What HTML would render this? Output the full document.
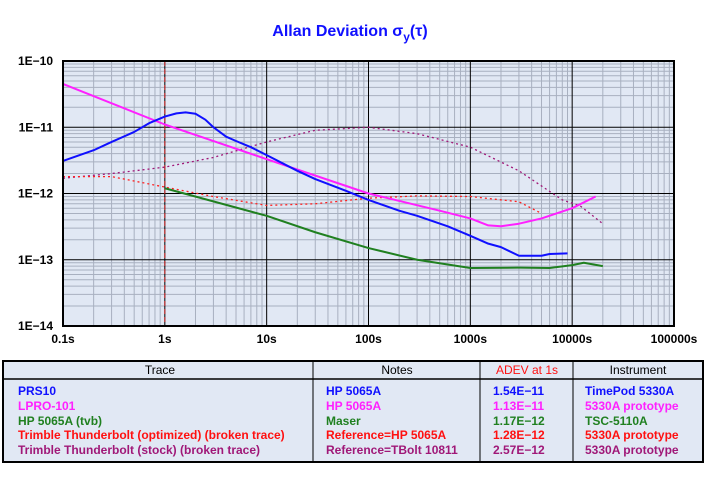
<!DOCTYPE html>
<html><head><meta charset="utf-8"><style>
body{margin:0;background:#fff;width:705px;height:492px;overflow:hidden;font-family:"Liberation Sans",sans-serif}
svg text{font-family:"Liberation Sans",sans-serif;font-weight:bold}
</style></head><body>
<svg width="705" height="492">
<text x="350" y="36" text-anchor="middle" font-size="16" fill="#1010ff">Allan Deviation σ<tspan font-size="12" dy="5">y</tspan><tspan dy="-5">(τ)</tspan></text>
<rect x="63" y="61" width="611" height="265" fill="#e1e8f4"/>
<g id="grid"></g><g id="series"></g>
<rect x="63" y="61" width="611" height="265" fill="none" stroke="#000" stroke-width="2"/>
<g id="labels"></g>
<g>
<rect x="3" y="361" width="700" height="101" fill="#e1e8f4" stroke="#000" stroke-width="2"/>
<line x1="3" y1="379" x2="703" y2="379" stroke="#000" stroke-width="1.5"/>
<line x1="313" y1="361" x2="313" y2="462" stroke="#000"/>
<line x1="480" y1="361" x2="480" y2="462" stroke="#000"/>
<line x1="573" y1="361" x2="573" y2="462" stroke="#000"/>
<g font-size="12">
<text x="160" y="374" text-anchor="middle" style="font-weight:normal">Trace</text>
<text x="397" y="374" text-anchor="middle" style="font-weight:normal">Notes</text>
<text x="527" y="374" text-anchor="middle" fill="#ff1010" style="font-weight:normal">ADEV at 1s</text>
<text x="638" y="374" text-anchor="middle" style="font-weight:normal">Instrument</text>
</g>
<g font-size="12">
<text x="18" y="395" fill="#1010ff">PRS10</text><text x="326" y="395" fill="#1010ff">HP 5065A</text><text x="493" y="395" fill="#1010ff">1.54E−11</text><text x="585" y="395" fill="#1010ff">TimePod 5330A</text>
<text x="18" y="410" fill="#ff20ff">LPRO-101</text><text x="326" y="410" fill="#ff20ff">HP 5065A</text><text x="493" y="410" fill="#ff20ff">1.13E−11</text><text x="585" y="410" fill="#ff20ff">5330A prototype</text>
<text x="18" y="425" fill="#208020">HP 5065A (tvb)</text><text x="326" y="425" fill="#208020">Maser</text><text x="493" y="425" fill="#208020">1.17E−12</text><text x="585" y="425" fill="#208020">TSC-5110A</text>
<text x="18" y="439" fill="#ff1010">Trimble Thunderbolt (optimized) (broken trace)</text><text x="326" y="439" fill="#ff1010">Reference=HP 5065A</text><text x="493" y="439" fill="#ff1010">1.28E−12</text><text x="585" y="439" fill="#ff1010">5330A prototype</text>
<text x="18" y="454" fill="#a01878">Trimble Thunderbolt (stock) (broken trace)</text><text x="326" y="454" fill="#a01878">Reference=TBolt 10811</text><text x="493" y="454" fill="#a01878">2.57E−12</text><text x="585" y="454" fill="#a01878">5330A prototype</text>
</g></g>
</svg>
<script>
const xTicks=["0.1s","1s","10s","100s","1000s","10000s","100000s"];
const yTicks=["1E−10","1E−11","1E−12","1E−13","1E−14"];
const prsTau=[0.1,0.2,0.3,0.5,0.7,1,1.3,1.6,2,2.5,3,4,5,7,10,20,30,60,100,200,300,600,1000,1500,2000,3000,5000,6000,9000];
const prsVal=[3.1e-12,4.5e-12,6e-12,8.5e-12,1.15e-11,1.45e-11,1.62e-11,1.68e-11,1.6e-11,1.3e-11,1.0e-11,7.2e-12,6.2e-12,5.0e-12,3.8e-12,2.2e-12,1.65e-12,1.1e-12,8e-13,5.5e-13,4.6e-13,3.2e-13,2.3e-13,1.75e-13,1.55e-13,1.15e-13,1.15e-13,1.22e-13,1.25e-13];
const lproTau=[0.1,1,10,100,500,1000,1500,2000,3000,5000,10000,17000];
const lproVal=[4.5e-11,1.1e-11,3.3e-12,1e-12,5.5e-13,4.2e-13,3.3e-13,3.2e-13,3.5e-13,4.2e-13,6e-13,9e-13];
const hpTau=[1,10,30,100,300,1000,3000,6000,10000,13000,20000];
const hpVal=[1.2e-12,4.6e-13,2.6e-13,1.5e-13,1e-13,7.5e-14,7.6e-14,7.5e-14,8.3e-14,9e-14,8e-14];
const tbOptTau=[0.1,0.3,1,3,10,30,100,300,1000,3000,5000];
const tbOptVal=[1.8e-12,1.8e-12,1.25e-12,9e-13,6.6e-13,7e-13,8.5e-13,9.2e-13,9e-13,7.5e-13,5e-13];
const tbStkTau=[0.1,0.3,1,3,10,30,100,300,1000,3000,8000,12000,20000];
const tbStkVal=[1.7e-12,2e-12,2.5e-12,3.5e-12,6e-12,9e-12,1e-11,8e-12,5e-12,2.2e-12,8e-13,6.5e-13,3.5e-13];
const X0=63,X1=674,Y0=61,Y1=326;
const xs=t=>X0+(Math.log10(t)+1)/6*(X1-X0);
const ys=v=>Y0+(-10-Math.log10(v))/4*(Y1-Y0);
const NS="http://www.w3.org/2000/svg";
function mk(tag,attrs,parent){const e=document.createElementNS(NS,tag);for(const k in attrs)e.setAttribute(k,attrs[k]);parent.appendChild(e);return e;}
const g=document.getElementById('grid'),lab=document.getElementById('labels'),s=document.getElementById('series');
for(let d=-1;d<5;d++)for(let m=2;m<10;m++){const x=xs(m*Math.pow(10,d));const l=mk('line',{x1:x,x2:x,y1:Y0,y2:Y1,stroke:'#a8b0c0'},g);}
for(let d=-14;d<-10;d++)for(let m=2;m<10;m++){const y=ys(m*Math.pow(10,d));const l=mk('line',{x1:X0,x2:X1,y1:y,y2:y,stroke:'#a8b0c0'},g);}
xTicks.forEach((t,i)=>{const x=xs(Math.pow(10,i-1));const l=mk('line',{x1:x,x2:x,y1:Y0,y2:Y1,stroke:'#000'},g);
const tx=mk('text',{x:x,y:343,'text-anchor':'middle','font-size':'12'},lab);tx.textContent=t;});
yTicks.forEach((t,i)=>{const y=ys(Math.pow(10,-10-i));const l=mk('line',{x1:X0,x2:X1,y1:y,y2:y,stroke:'#000'},g);
const tx=mk('text',{x:53,y:y+4,'text-anchor':'end','font-size':'12'},lab);tx.textContent=t;});
const ref=mk('line',{x1:xs(1),x2:xs(1),y1:Y0,y2:Y1,stroke:'#d02020','stroke-dasharray':'5,3'},s);

function line(T,V,color,name,dash,w){const p=mk('polyline',{points:T.map((t,i)=>xs(t)+','+ys(V[i])).join(' '),fill:'none',stroke:color,'stroke-width':w||2,'stroke-dasharray':dash||'none','stroke-linejoin':'round'},s);
}
line(tbStkTau,tbStkVal,'#a01878','series-tbolt-stock','2,3',1.3);
line(tbOptTau,tbOptVal,'#ff2020','series-tbolt-optimized','2,3',1.3);
line(hpTau,hpVal,'#208020','series-hp5065a-tvb');
line(lproTau,lproVal,'#ff20ff','series-lpro-101');
line(prsTau,prsVal,'#1010ff','series-prs10');
</script>
</body></html>
